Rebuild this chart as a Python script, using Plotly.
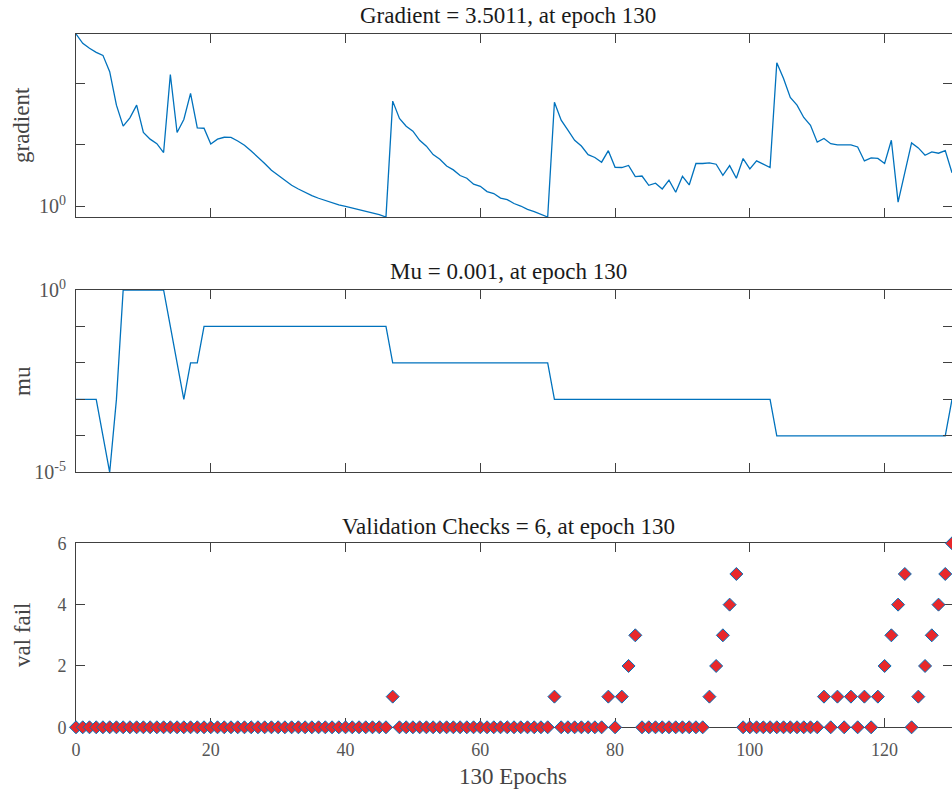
import numpy as np
import plotly.graph_objects as go

epochs = list(range(0, 131))

gradient = [627, 442, 367, 316, 282, 153, 43.9, 20.0, 27.3, 43.9,
            15.8, 12.3, 10.4, 7.46, 138, 15.8, 25.7, 68, 18.8, 18.5,
            10.3, 12.3, 13.2, 13.1, 11.5, 9.8, 7.9, 6.3, 4.95, 3.85,
            3.16, 2.62, 2.19, 1.91, 1.67, 1.49, 1.35, 1.24, 1.13, 1.05,
            1.0, 0.94, 0.88, 0.83, 0.78, 0.73, 0.67, 51, 26.7, 20.0,
            16.6, 11.8, 9.46, 6.9, 5.8, 4.5, 3.9, 3.16, 2.85, 2.28,
            2.11, 1.73, 1.61, 1.36, 1.28, 1.11, 1.01, 0.89, 0.82, 0.74,
            0.67, 49, 25, 17.2, 11.8, 9.5, 6.9, 6.2, 5.2, 8.0,
            4.3, 4.26, 4.6, 3.04, 3.1, 2.19, 2.37, 1.91, 2.65, 1.69,
            3.07, 2.22, 4.95, 4.95, 5.07, 4.82, 3.19, 4.58, 2.85, 5.96,
            4.04, 5.45, 4.82, 4.26, 214, 119, 58.5, 43.9, 27.7, 20.7,
            11.0, 12.6, 10.4, 9.9, 9.9, 9.9, 9.2, 5.45, 6.1, 6.0,
            4.95, 11.8, 1.17, 3.53, 10.7, 8.87, 6.75, 7.64, 7.27, 8.04,
            3.5011]

mu = ([1e-3, 1e-3, 1e-3, 1e-3, 1e-4, 1e-5, 1e-3] + [1.0] * 7 +
      [0.1, 0.01, 1e-3, 0.01, 0.01] + [0.1] * 28 + [0.01] * 24 +
      [1e-3] * 33 + [1e-4] * 26 + [1e-3])

val_fail = ([0] * 47 + [1] + [0] * 23 + [1] + [0] * 7 +
            [1, 0, 1, 2, 3] + [0] * 10 + [1, 2, 3, 4, 5] + [0] * 12 +
            [1, 0, 1, 0, 1, 0, 1, 0, 1, 2, 3, 4, 5, 0, 1, 2, 3, 4, 5, 6])

x_ticks = [0, 20, 40, 60, 80, 100, 120]
x_ticktext = ["0", "20", "40", "60", "80", "100", "120"]

grad_ticks = [1]
grad_ticktext = ["10<sup>0</sup>"]
grad_minor = [10, 100]
mu_ticks = [1e-5, 1]
mu_ticktext = ["10<sup>-5</sup>", "10<sup>0</sup>"]
mu_minor = [1e-4, 1e-3, 1e-2, 1e-1]
vf_ticks = [0, 2, 4, 6]

titles = ["Gradient = 3.5011, at epoch 130",
          "Mu = 0.001, at epoch 130",
          "Validation Checks = 6, at epoch 130"]
ylabels = ["gradient", "mu", "val fail"]
xlabel = "130 Epochs"

W, H = 952, 794
FONT = "Liberation Serif, DejaVu Serif, serif"
LINE_BLUE = "#0072BD"
AX = "#404040"

fig = go.Figure()
fig.add_trace(go.Scatter(x=epochs, y=gradient, mode="lines",
                         line=dict(color=LINE_BLUE, width=1.3),
                         xaxis="x", yaxis="y", showlegend=False))
fig.add_trace(go.Scatter(x=epochs, y=mu, mode="lines",
                         line=dict(color=LINE_BLUE, width=1.3),
                         xaxis="x2", yaxis="y2", showlegend=False))
fig.add_trace(go.Scatter(x=epochs, y=val_fail, mode="markers",
                         marker=dict(symbol="diamond", size=10, color="#E8282B",
                                     line=dict(color=LINE_BLUE, width=1)),
                         cliponaxis=False,
                         xaxis="x3", yaxis="y3", showlegend=False))

def px_y(top, bottom):
    return [1 - bottom / H, 1 - top / H]

xdom = [76 / W, 1.0]
xr = [0, 130]

base = dict(showline=True, linecolor=AX, linewidth=1, mirror="allticks",
            ticks="inside", ticklen=9, tickcolor=AX, tickwidth=1,
            showgrid=False, zeroline=False, automargin=False,
            tickfont=dict(family=FONT, size=18, color="#555555"))
minor_style = dict(ticks="inside", ticklen=9, tickcolor=AX, tickwidth=1, showgrid=False)

xcommon = dict(base, range=xr, tickvals=x_ticks, ticktext=x_ticktext, domain=xdom)
logfont = dict(family=FONT, size=20, color="#555555")

g = np.array(gradient)
layout = dict(
    width=W, height=H, margin=dict(l=0, r=0, t=0, b=0, autoexpand=False),
    paper_bgcolor="white", plot_bgcolor="white",
    xaxis=dict(xcommon, anchor="y", showticklabels=False),
    xaxis2=dict(xcommon, anchor="y2", showticklabels=False),
    xaxis3=dict(xcommon, anchor="y3", showticklabels=True, layer="below traces",
                ticklabelstandoff=6),
    yaxis=dict(base, anchor="x", type="log", domain=px_y(34, 217),
               range=[np.log10(g.min()), np.log10(g.max())],
               tickvals=grad_ticks, ticktext=grad_ticktext,
               minor=dict(minor_style, tickvals=grad_minor),
               tickfont=logfont, ticklabelstandoff=5),
    yaxis2=dict(base, anchor="x2", type="log", domain=px_y(290, 472.3),
                range=[-5, 0],
                tickvals=mu_ticks, ticktext=mu_ticktext,
                minor=dict(minor_style, tickvals=mu_minor),
                tickfont=logfont, ticklabelstandoff=5),
    yaxis3=dict(base, anchor="x3", domain=px_y(543.3, 727.3), range=[0, 6],
                tickvals=vf_ticks, ticktext=[str(v) for v in vf_ticks],
                layer="below traces", ticklabelstandoff=5),
)
fig.update_layout(**layout)

xt = 508 / W
xc = 513 / W
ann = []
for t, yc in zip(titles, [16, 271, 526]):
    ann.append(dict(text=t, x=xt, y=1 - yc / H, xref="paper", yref="paper",
                    showarrow=False, xanchor="center", yanchor="middle",
                    font=dict(family=FONT, size=23, color="#1a1a1a")))
for t, yc in zip(ylabels, [125, 381, 635]):
    ann.append(dict(text=t, x=22 / W, y=1 - yc / H, xref="paper", yref="paper",
                    showarrow=False, xanchor="center", yanchor="middle", textangle=-90,
                    font=dict(family=FONT, size=23, color="#444444")))
ann.append(dict(text=xlabel, x=xc, y=1 - 776 / H, xref="paper", yref="paper",
                showarrow=False, xanchor="center", yanchor="middle",
                font=dict(family=FONT, size=23, color="#444444")))
fig.update_layout(annotations=ann)

fig.write_html("out.html")
